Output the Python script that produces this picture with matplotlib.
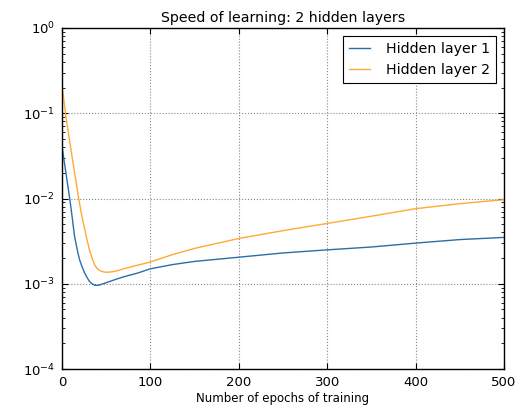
import matplotlib
matplotlib.use("Agg")
import matplotlib.pyplot as plt

# Values
epochs_1 = [0, 3, 6, 9, 12, 14, 16, 18, 20, 22, 25, 28, 31, 34, 37, 41, 45, 50,
            60, 70, 86, 100, 125, 150, 200, 250, 300, 350, 400, 450, 500]
speed_1 = [0.041, 0.025, 0.0155, 0.0095, 0.0055, 0.0037, 0.0029, 0.0023, 0.0019,
           0.00166, 0.00138, 0.0012, 0.00107, 0.001, 0.00096, 0.00096, 0.00099,
           0.00103, 0.00112, 0.00121, 0.00134, 0.0015, 0.00168, 0.00183, 0.00205,
           0.0023, 0.0025, 0.0027, 0.003, 0.0033, 0.0035]

epochs_2 = [0, 2, 4, 8, 12, 16, 19, 22, 25, 28, 31, 34, 37, 40, 44, 48, 53, 60,
            70, 86, 100, 125, 150, 200, 250, 300, 350, 400, 450, 500]
speed_2 = [0.21, 0.145, 0.098, 0.052, 0.028, 0.0155, 0.0098, 0.0066, 0.0047,
           0.0034, 0.0025, 0.002, 0.00166, 0.0015, 0.00141, 0.00137, 0.00137,
           0.0014, 0.0015, 0.00166, 0.0018, 0.0022, 0.0026, 0.0034, 0.0042,
           0.0051, 0.0062, 0.0076, 0.0087, 0.0097]

labels = ["Hidden layer 1", "Hidden layer 2"]
colors = ["#2A6EA6", "#FFA933"]

plt.rcParams["font.family"] = "DejaVu Sans"
plt.rcParams["font.size"] = 8.5

fig = plt.figure(figsize=(5.30, 4.11), dpi=100)
ax = fig.add_axes([0.117, 0.102, 0.834, 0.830])

ax.plot(epochs_1, speed_1, color=colors[0], linewidth=1.0, label=labels[0])
ax.plot(epochs_2, speed_2, color=colors[1], linewidth=1.0, label=labels[1])

ax.set_yscale("log")
ax.set_xlim(0, 500)
ax.set_ylim(1e-4, 1)
ax.set_xticks([0, 100, 200, 300, 400, 500])
ax.grid(True, which="major", color="#888888", linestyle=":", linewidth=0.8)
ax.tick_params(which="both", direction="in", top=True, right=True, colors="black")
ax.tick_params(which="major", length=4, pad=5, labelsize=9.5)
ax.tick_params(which="minor", length=2)
for s in ax.spines.values():
    s.set_linewidth(1.0)

ax.set_title("Speed of learning: 2 hidden layers", fontsize=10.2, pad=4)
ax.set_xlabel("Number of epochs of training", labelpad=2)

leg = ax.legend(loc="upper right", fancybox=False, framealpha=1,
                edgecolor="black", fontsize=10.2, handlelength=1.5,
                handletextpad=1.1, borderaxespad=0.6)
leg.get_frame().set_linewidth(0.8)

fig.savefig("out.png", dpi=100)
